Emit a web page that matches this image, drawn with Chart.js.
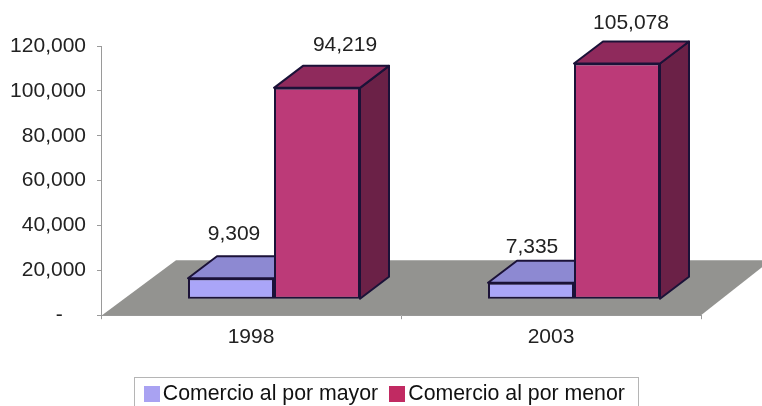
<!DOCTYPE html>
<html>
<head>
<meta charset="utf-8">
<style>
  html, body { margin: 0; padding: 0; background: #fff; }
  #wrap { position: relative; width: 762px; height: 406px; overflow: hidden; }
</style>
<script src="https://cdn.jsdelivr.net/npm/chart.js@4/dist/chart.umd.js"></script>
</head>
<body>
<div id="wrap"><canvas id="grafica" width="762" height="406"></canvas></div>
<script>
const categories = ['1998', '2003'];
const mayorValues = [9309, 7335];
const menorValues = [94219, 105078];
const seriesNames = ['Comercio al por mayor', 'Comercio al por menor'];
const yTicks = [0, 20000, 40000, 60000, 80000, 100000, 120000];

const FONT = 'Liberation Sans, Arial, sans-serif';
const FONT_SIZE = 21;
const TEXT = '#222222';
const AXIS = '#9a9a9a';
const OUTLINE = '#1b1238';

// 3d look
const SHIFT = { x: 23, y: -16 };   // front face against the zero line
const DEPTH = { x: 29, y: -22 };   // bar depth
const FLOOR = { left: 75, right: 70, y: -55 };
const faces = [
  { top: '#8d89d2', side: '#6f6cb0' },
  { top: '#8f2a5c', side: '#6b2147' }
];
const labelShift = [
  [{ x: 3, y: -44 }, { x: 1, y: -36 }],
  [{ x: 28, y: -43 }, { x: 14, y: -40 }]
];

function swatch(color) {
  const c = document.createElement('canvas');
  c.width = 16; c.height = 16;
  const g = c.getContext('2d');
  g.fillStyle = color;
  g.fillRect(0, 0, 16, 16);
  return c;
}

function face(ctx, pts, fill) {
  ctx.beginPath();
  pts.forEach((p, i) => i ? ctx.lineTo(p[0], p[1]) : ctx.moveTo(p[0], p[1]));
  ctx.closePath();
  ctx.fillStyle = fill;
  ctx.fill();
  ctx.lineJoin = 'round';
  ctx.lineWidth = 2;
  ctx.strokeStyle = OUTLINE;
  ctx.stroke();
}

const bars3d = {
  id: 'bars3d',
  afterLayout(chart) {
    // legend box is drawn off-centre, wide bounds so both items stay on one row
    const lg = chart.legend;
    lg.left = 100; lg.right = 676;
    lg.top = 365; lg.bottom = 406;
  },
  beforeDatasetsDraw(chart) {
    const { ctx, chartArea: a } = chart;
    ctx.save();
    ctx.beginPath();
    ctx.moveTo(a.left + 1, a.bottom);
    ctx.lineTo(a.right, a.bottom);
    ctx.lineTo(a.right + FLOOR.right, a.bottom + FLOOR.y);
    ctx.lineTo(a.left + FLOOR.left, a.bottom + FLOOR.y);
    ctx.closePath();
    ctx.fillStyle = '#939390';
    ctx.fill();
    ctx.restore();
  },
  beforeDatasetDraw(chart, args) {
    const { ctx } = chart;
    ctx.save();
    ctx.translate(SHIFT.x, SHIFT.y);
    const f = faces[args.index];
    args.meta.data.forEach(bar => {
      const l = bar.x - bar.width / 2, r = bar.x + bar.width / 2;
      const t = bar.y, b = bar.base;
      if (args.index === 0) {
        // the red bar stands in front of the blue one, keep only what shows
        ctx.save();
        ctx.beginPath();
        ctx.rect(l - 2, t + DEPTH.y - 2, r - l + 2, b - t - DEPTH.y + 4);
        ctx.clip();
        face(ctx, [[l, t], [l + DEPTH.x, t + DEPTH.y], [r + DEPTH.x, t + DEPTH.y], [r, t]], f.top);
        ctx.restore();
      } else {
        face(ctx, [[r, b], [r + DEPTH.x, b + DEPTH.y], [r + DEPTH.x, t + DEPTH.y], [r, t]], f.side);
        face(ctx, [[l, t], [l + DEPTH.x, t + DEPTH.y], [r + DEPTH.x, t + DEPTH.y], [r, t]], f.top);
      }
    });
  },
  afterDatasetDraw(chart) {
    chart.ctx.restore();
  },
  afterDatasetsDraw(chart) {
    const { ctx } = chart;
    ctx.save();
    ctx.font = FONT_SIZE + 'px ' + FONT;
    ctx.fillStyle = TEXT;
    ctx.textAlign = 'center';
    ctx.textBaseline = 'middle';
    chart.data.datasets.forEach((ds, d) => {
      chart.getDatasetMeta(d).data.forEach((bar, i) => {
        const s = labelShift[d][i];
        ctx.fillText(ds.data[i].toLocaleString('en-US'), bar.x + SHIFT.x + s.x, bar.y + SHIFT.y + s.y);
      });
    });
    ctx.restore();
  },
  afterDraw(chart) {
    const { ctx } = chart;
    ctx.save();
    ctx.strokeStyle = '#b5b5b5';
    ctx.lineWidth = 1;
    ctx.strokeRect(134.5, 377.5, 504, 40);
    ctx.restore();
  }
};

new Chart(document.getElementById('grafica').getContext('2d'), {
  type: 'bar',
  data: {
    labels: categories,
    datasets: [
      { label: seriesNames[0], data: mayorValues, backgroundColor: '#aaa5f8', borderColor: OUTLINE, borderWidth: 2, borderSkipped: false },
      { label: seriesNames[1], data: menorValues, backgroundColor: '#bc3a78', borderColor: OUTLINE, borderWidth: 2, borderSkipped: false }
    ]
  },
  plugins: [bars3d],
  options: {
    responsive: false,
    animation: false,
    layout: { padding: { top: 46, right: 61, left: 0, bottom: 0 } },
    datasets: { bar: { barPercentage: 1, categoryPercentage: 0.5733 } },
    scales: {
      x: {
        afterFit(s) { s.height = 41; },
        grid: { drawOnChartArea: false, color: AXIS, tickLength: 4, offset: true },
        border: { color: AXIS, width: 1 },
        ticks: { color: TEXT, font: { family: FONT, size: FONT_SIZE }, padding: 5 }
      },
      y: {
        min: 0,
        max: 120000,
        afterFit(s) { s.width = 101; },
        afterBuildTicks(s) { s.ticks = yTicks.map(v => ({ value: v })); },
        grid: { drawOnChartArea: false, color: AXIS, tickLength: 4 },
        border: { color: AXIS, width: 1 },
        ticks: {
          color: TEXT,
          font: { family: FONT, size: FONT_SIZE },
          padding: 11,
          callback: v => v === 0 ? '-\u00a0\u00a0\u00a0\u00a0' : v.toLocaleString('en-US')
        }
      }
    },
    plugins: {
      tooltip: { enabled: false },
      legend: {
        position: 'bottom',
        labels: {
          color: '#111111',
          font: { family: FONT, size: 21.3 },
          usePointStyle: true,
          pointStyleWidth: 1,
          padding: 18.5,
          generateLabels(chart) {
            const items = Chart.defaults.plugins.legend.labels.generateLabels(chart);
            items.forEach(it => {
              it.pointStyle = swatch(it.datasetIndex === 0 ? '#a9a2f2' : '#c12a62');
            });
            return items;
          }
        }
      }
    }
  }
});
</script>
</body>
</html>
